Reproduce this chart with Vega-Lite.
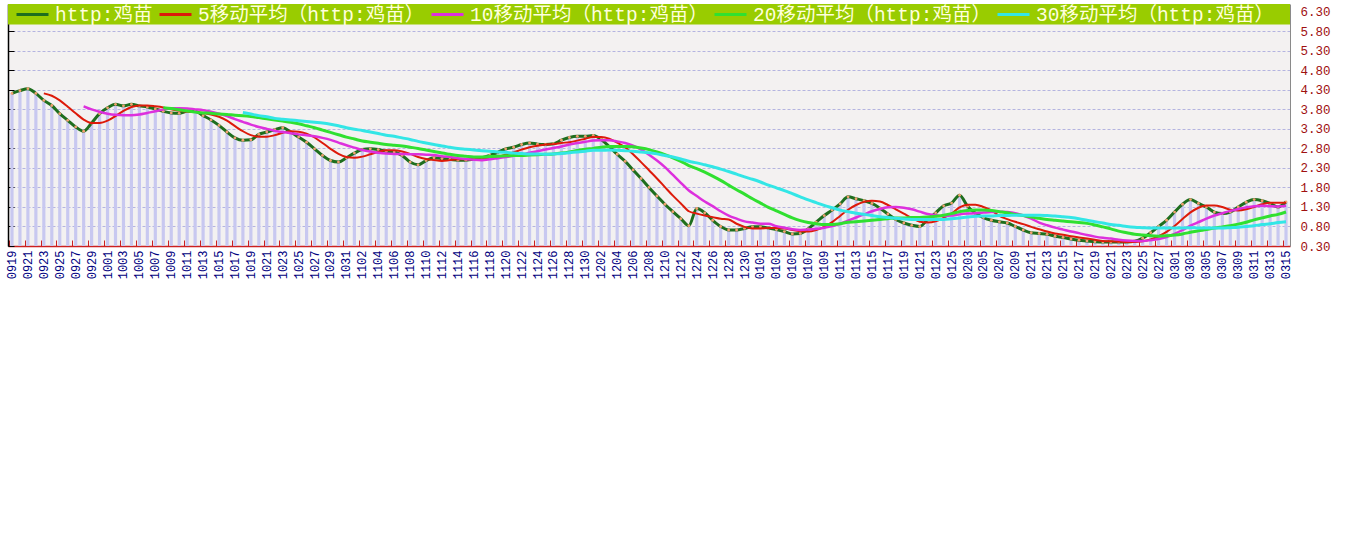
{
"$schema": "https://vega.github.io/schema/vega-lite/v6.json",
"width": 1282,
"height": 242,
"autosize": {"type": "none"},
"padding": {"left": 8, "top": 4, "right": 55, "bottom": 295},
"background": "white",
"config": {"view": {"fill": "#f3f1f1", "stroke": null}, "axis": {"labelFlush": false, "labelOverlap": false}},
"data": {"values": [
{"d":"0919","v":4.21},{"d":"0920","v":4.28},{"d":"0921","v":4.33},{"d":"0922","v":4.21},
{"d":"0923","v":4.03,"a":4.21},{"d":"0924","v":3.90,"a":4.15},{"d":"0925","v":3.69,"a":4.03},{"d":"0926","v":3.52,"a":3.87},{"d":"0927","v":3.35,"a":3.70},
{"d":"0928","v":3.24,"a":3.54,"b":3.88},{"d":"0929","v":3.45,"a":3.45,"b":3.80},{"d":"0930","v":3.69,"a":3.45,"b":3.74},{"d":"1001","v":3.84,"a":3.51,"b":3.69},{"d":"1002","v":3.93,"a":3.63,"b":3.66},{"d":"1003","v":3.89,"a":3.76,"b":3.65},{"d":"1004","v":3.93,"a":3.86,"b":3.65},{"d":"1005","v":3.89,"a":3.90,"b":3.67},{"d":"1006","v":3.86,"a":3.90,"b":3.71},{"d":"1007","v":3.81,"a":3.88,"b":3.75},
{"d":"1008","v":3.75,"a":3.85,"b":3.80,"c":3.84},{"d":"1009","v":3.71,"a":3.80,"b":3.83,"c":3.82},{"d":"1010","v":3.70,"a":3.77,"b":3.83,"c":3.79},{"d":"1011","v":3.75,"a":3.74,"b":3.82,"c":3.76},{"d":"1012","v":3.75,"a":3.73,"b":3.80,"c":3.73},{"d":"1013","v":3.64,"a":3.71,"b":3.78,"c":3.71},{"d":"1014","v":3.53,"a":3.67,"b":3.74,"c":3.70},{"d":"1015","v":3.39,"a":3.61,"b":3.69,"c":3.68},{"d":"1016","v":3.22,"a":3.51,"b":3.63,"c":3.67},{"d":"1017","v":3.07,"a":3.37,"b":3.55,"c":3.65},
{"d":"1018","v":3.01,"a":3.24,"b":3.48,"c":3.64,"e":3.72},{"d":"1019","v":3.02,"a":3.14,"b":3.41,"c":3.62,"e":3.68},{"d":"1020","v":3.16,"a":3.10,"b":3.35,"c":3.59,"e":3.64},{"d":"1021","v":3.22,"a":3.10,"b":3.30,"c":3.56,"e":3.61},{"d":"1022","v":3.28,"a":3.14,"b":3.25,"c":3.53,"e":3.57},{"d":"1023","v":3.33,"a":3.20,"b":3.22,"c":3.50,"e":3.55},{"d":"1024","v":3.22,"a":3.24,"b":3.19,"c":3.47,"e":3.53},{"d":"1025","v":3.09,"a":3.23,"b":3.16,"c":3.43,"e":3.51},{"d":"1026","v":2.96,"a":3.18,"b":3.14,"c":3.38,"e":3.49},{"d":"1027","v":2.79,"a":3.08,"b":3.11,"c":3.33,"e":3.47},
{"d":"1028","v":2.62,"a":2.94,"b":3.07,"c":3.27,"e":3.45},{"d":"1029","v":2.49,"a":2.79,"b":3.02,"c":3.21,"e":3.42},{"d":"1030","v":2.45,"a":2.66,"b":2.95,"c":3.15,"e":3.38},{"d":"1031","v":2.56,"a":2.58,"b":2.88,"c":3.09,"e":3.33},{"d":"1101","v":2.68,"a":2.56,"b":2.82,"c":3.04,"e":3.29},{"d":"1102","v":2.77,"a":2.59,"b":2.76,"c":2.99,"e":3.26},{"d":"1103","v":2.79,"a":2.65,"b":2.72,"c":2.96,"e":3.22},{"d":"1104","v":2.77,"a":2.71,"b":2.69,"c":2.93,"e":3.18},{"d":"1105","v":2.73,"a":2.75,"b":2.67,"c":2.90,"e":3.14},{"d":"1106","v":2.71,"a":2.75,"b":2.66,"c":2.88,"e":3.11},
{"d":"1107","v":2.62,"a":2.72,"b":2.66,"c":2.86,"e":3.07},{"d":"1108","v":2.45,"a":2.66,"b":2.65,"c":2.83,"e":3.03},{"d":"1109","v":2.38,"a":2.58,"b":2.65,"c":2.80,"e":2.98},{"d":"1110","v":2.49,"a":2.53,"b":2.64,"c":2.76,"e":2.94},{"d":"1111","v":2.56,"a":2.50,"b":2.63,"c":2.72,"e":2.90},{"d":"1112","v":2.54,"a":2.48,"b":2.60,"c":2.68,"e":2.86},{"d":"1113","v":2.52,"a":2.50,"b":2.58,"c":2.65,"e":2.83},{"d":"1114","v":2.50,"a":2.52,"b":2.55,"c":2.62,"e":2.80},{"d":"1115","v":2.50,"a":2.52,"b":2.53,"c":2.60,"e":2.78},{"d":"1116","v":2.52,"a":2.52,"b":2.51,"c":2.58,"e":2.76},
{"d":"1117","v":2.56,"a":2.52,"b":2.50,"c":2.58,"e":2.74},{"d":"1118","v":2.62,"a":2.54,"b":2.52,"c":2.59,"e":2.73},{"d":"1119","v":2.70,"a":2.58,"b":2.55,"c":2.60,"e":2.71},{"d":"1120","v":2.79,"a":2.64,"b":2.58,"c":2.61,"e":2.70},{"d":"1121","v":2.83,"a":2.70,"b":2.61,"c":2.62,"e":2.68},{"d":"1122","v":2.90,"a":2.77,"b":2.64,"c":2.62,"e":2.67},{"d":"1123","v":2.94,"a":2.83,"b":2.69,"c":2.63,"e":2.66},{"d":"1124","v":2.91,"a":2.87,"b":2.73,"c":2.64,"e":2.66},{"d":"1125","v":2.90,"a":2.90,"b":2.77,"c":2.65,"e":2.65},{"d":"1126","v":2.92,"a":2.91,"b":2.81,"c":2.66,"e":2.66},
{"d":"1127","v":3.01,"a":2.94,"b":2.85,"c":2.68,"e":2.67},{"d":"1128","v":3.08,"a":2.96,"b":2.90,"c":2.71,"e":2.69},{"d":"1129","v":3.11,"a":3.00,"b":2.94,"c":2.75,"e":2.71},{"d":"1130","v":3.11,"a":3.05,"b":2.97,"c":2.78,"e":2.73},{"d":"1201","v":3.13,"a":3.09,"b":3.00,"c":2.80,"e":2.75},{"d":"1202","v":3.03,"a":3.09,"b":3.01,"c":2.83,"e":2.75},{"d":"1203","v":2.85,"a":3.05,"b":3.01,"c":2.85,"e":2.76},{"d":"1204","v":2.65,"a":2.95,"b":2.98,"c":2.85,"e":2.75},{"d":"1205","v":2.47,"a":2.83,"b":2.94,"c":2.85,"e":2.74},{"d":"1206","v":2.25,"a":2.65,"b":2.87,"c":2.84,"e":2.73},
{"d":"1207","v":2.03,"a":2.45,"b":2.77,"c":2.81,"e":2.71},{"d":"1208","v":1.80,"a":2.24,"b":2.64,"c":2.77,"e":2.69},{"d":"1209","v":1.58,"a":2.03,"b":2.49,"c":2.71,"e":2.66},{"d":"1210","v":1.37,"a":1.81,"b":2.32,"c":2.64,"e":2.62},{"d":"1211","v":1.18,"a":1.59,"b":2.12,"c":2.56,"e":2.58},{"d":"1212","v":1.00,"a":1.39,"b":1.92,"c":2.47,"e":2.53},{"d":"1213","v":0.82,"a":1.19,"b":1.72,"c":2.36,"e":2.47},{"d":"1224","v":1.26,"a":1.13,"b":1.58,"c":2.28,"e":2.43},{"d":"1225","v":1.15,"a":1.08,"b":1.44,"c":2.19,"e":2.38},{"d":"1226","v":0.96,"a":1.04,"b":1.32,"c":2.09,"e":2.33},
{"d":"1227","v":0.80,"a":1.00,"b":1.19,"c":1.98,"e":2.27},{"d":"1228","v":0.71,"a":0.98,"b":1.08,"c":1.86,"e":2.21},{"d":"1229","v":0.71,"a":0.87,"b":1.00,"c":1.74,"e":2.14},{"d":"1230","v":0.75,"a":0.79,"b":0.93,"c":1.63,"e":2.07},{"d":"1231","v":0.79,"a":0.75,"b":0.90,"c":1.51,"e":2.01},{"d":"0101","v":0.79,"a":0.75,"b":0.87,"c":1.40,"e":1.94},{"d":"0102","v":0.76,"a":0.76,"b":0.87,"c":1.29,"e":1.86},{"d":"0103","v":0.72,"a":0.76,"b":0.81,"c":1.20,"e":1.79},{"d":"0104","v":0.67,"a":0.75,"b":0.77,"c":1.11,"e":1.72},{"d":"0105","v":0.61,"a":0.71,"b":0.73,"c":1.02,"e":1.64},
{"d":"0106","v":0.62,"a":0.68,"b":0.71,"c":0.95,"e":1.56},{"d":"0107","v":0.74,"a":0.67,"b":0.72,"c":0.90,"e":1.48},{"d":"0108","v":0.91,"a":0.71,"b":0.74,"c":0.87,"e":1.41},{"d":"0109","v":1.08,"a":0.79,"b":0.77,"c":0.85,"e":1.34},{"d":"0110","v":1.22,"a":0.91,"b":0.81,"c":0.85,"e":1.28},{"d":"0111","v":1.38,"a":1.07,"b":0.87,"c":0.87,"e":1.22},{"d":"0112","v":1.56,"a":1.23,"b":0.95,"c":0.91,"e":1.18},{"d":"0113","v":1.51,"a":1.35,"b":1.03,"c":0.92,"e":1.14},{"d":"0114","v":1.46,"a":1.43,"b":1.11,"c":0.94,"e":1.11},{"d":"0115","v":1.39,"a":1.46,"b":1.19,"c":0.96,"e":1.08},
{"d":"0116","v":1.27,"a":1.44,"b":1.25,"c":0.98,"e":1.05},{"d":"0117","v":1.12,"a":1.35,"b":1.29,"c":1.00,"e":1.03},{"d":"0118","v":0.98,"a":1.24,"b":1.30,"c":1.02,"e":1.01},{"d":"0119","v":0.89,"a":1.13,"b":1.28,"c":1.02,"e":0.99},{"d":"0120","v":0.83,"a":1.02,"b":1.24,"c":1.03,"e":0.98},{"d":"0121","v":0.80,"a":0.92,"b":1.18,"c":1.03,"e":0.98},{"d":"0122","v":0.98,"a":0.90,"b":1.12,"c":1.04,"e":0.98},{"d":"0123","v":1.15,"a":0.93,"b":1.09,"c":1.06,"e":0.98},{"d":"0124","v":1.33,"a":1.02,"b":1.07,"c":1.09,"e":0.98},{"d":"0125","v":1.40,"a":1.13,"b":1.08,"c":1.13,"e":1.00},
{"d":"0126","v":1.60,"a":1.29,"b":1.11,"c":1.18,"e":1.02},{"d":"0203","v":1.32,"a":1.36,"b":1.13,"c":1.21,"e":1.04},{"d":"0204","v":1.14,"a":1.36,"b":1.14,"c":1.22,"e":1.06},{"d":"0205","v":1.03,"a":1.30,"b":1.16,"c":1.22,"e":1.07},{"d":"0206","v":0.96,"a":1.21,"b":1.17,"c":1.21,"e":1.07},{"d":"0207","v":0.92,"a":1.07,"b":1.18,"c":1.18,"e":1.08},{"d":"0208","v":0.89,"a":0.99,"b":1.17,"c":1.15,"e":1.08},{"d":"0209","v":0.80,"a":0.92,"b":1.14,"c":1.11,"e":1.09},{"d":"0210","v":0.71,"a":0.86,"b":1.08,"c":1.08,"e":1.09},{"d":"0211","v":0.64,"a":0.79,"b":1.00,"c":1.04,"e":1.09},
{"d":"0212","v":0.62,"a":0.73,"b":0.90,"c":1.01,"e":1.09},{"d":"0213","v":0.60,"a":0.67,"b":0.83,"c":0.98,"e":1.08},{"d":"0214","v":0.55,"a":0.62,"b":0.77,"c":0.96,"e":1.07},{"d":"0215","v":0.52,"a":0.59,"b":0.72,"c":0.94,"e":1.05},{"d":"0216","v":0.48,"a":0.55,"b":0.67,"c":0.92,"e":1.03},{"d":"0217","v":0.45,"a":0.52,"b":0.63,"c":0.90,"e":1.00},{"d":"0218","v":0.43,"a":0.49,"b":0.58,"c":0.88,"e":0.96},{"d":"0219","v":0.41,"a":0.46,"b":0.54,"c":0.84,"e":0.92},{"d":"0220","v":0.40,"a":0.43,"b":0.51,"c":0.79,"e":0.89},{"d":"0221","v":0.40,"a":0.42,"b":0.49,"c":0.74,"e":0.85},
{"d":"0222","v":0.40,"a":0.41,"b":0.46,"c":0.68,"e":0.83},{"d":"0223","v":0.40,"a":0.40,"b":0.44,"c":0.64,"e":0.80},{"d":"0224","v":0.42,"a":0.40,"b":0.43,"c":0.60,"e":0.78},{"d":"0225","v":0.50,"a":0.42,"b":0.43,"c":0.58,"e":0.77},{"d":"0226","v":0.64,"a":0.47,"b":0.45,"c":0.56,"e":0.76},{"d":"0227","v":0.80,"a":0.55,"b":0.48,"c":0.55,"e":0.76},{"d":"0228","v":0.96,"a":0.66,"b":0.53,"c":0.56,"e":0.76},{"d":"0301","v":1.17,"a":0.81,"b":0.61,"c":0.58,"e":0.76},{"d":"0302","v":1.37,"a":0.99,"b":0.71,"c":0.61,"e":0.76},{"d":"0303","v":1.49,"a":1.16,"b":0.82,"c":0.65,"e":0.77},
{"d":"0304","v":1.39,"a":1.28,"b":0.91,"c":0.69,"e":0.76},{"d":"0305","v":1.30,"a":1.34,"b":1.00,"c":0.72,"e":0.76},{"d":"0306","v":1.17,"a":1.34,"b":1.08,"c":0.76,"e":0.76},{"d":"0307","v":1.13,"a":1.30,"b":1.14,"c":0.79,"e":0.76},{"d":"0308","v":1.17,"a":1.23,"b":1.20,"c":0.82,"e":0.77},{"d":"0309","v":1.30,"a":1.21,"b":1.25,"c":0.86,"e":0.78},{"d":"0310","v":1.42,"a":1.24,"b":1.29,"c":0.91,"e":0.80},{"d":"0311","v":1.49,"a":1.30,"b":1.32,"c":0.97,"e":0.82},{"d":"0312","v":1.46,"a":1.37,"b":1.33,"c":1.02,"e":0.85},{"d":"0313","v":1.39,"a":1.41,"b":1.32,"c":1.07,"e":0.87},
{"d":"0314","v":1.30,"a":1.41,"b":1.31,"c":1.11,"e":0.90},{"d":"0315","v":1.43,"a":1.41,"b":1.33,"c":1.17,"e":0.92}
]},
"resolve": {"axis": {"y": "independent"}},
"layer": [
{
"mark": {"type": "bar", "color": "#c8c8f0", "width": {"band": 0.4}},
"encoding": {
"x": {"field": "d", "type": "ordinal", "sort": null, "scale": {"type": "band", "paddingInner": 0, "paddingOuter": 0},
"axis": {"title": null, "values": ["0919","0921","0923","0925","0927","0929","1001","1003","1005","1007","1009","1011","1013","1015","1017","1019","1021","1023","1025","1027","1029","1031","1102","1104","1106","1108","1110","1112","1114","1116","1118","1120","1122","1124","1126","1128","1130","1202","1204","1206","1208","1210","1212","1224","1226","1228","1230","0101","0103","0105","0107","0109","0111","0113","0115","0117","0119","0121","0123","0125","0203","0205","0207","0209","0211","0213","0215","0217","0219","0221","0223","0225","0227","0301","0303","0305","0307","0309","0311","0313","0315"],
"labelAngle": -90, "labelColor": "#000080", "labelFont": "Liberation Mono", "labelFontSize": 12, "labelPadding": 10,
"tickColor": "#cc2020", "tickSize": -6, "tickWidth": 1, "domainColor": "#cc2020", "domainWidth": 1.5, "bandPosition": 0.15, "grid": false}},
"y": {"field": "v", "type": "quantitative", "scale": {"domain": [0.3, 6.5], "nice": false, "zero": false},
"axis": {"orient": "right", "title": null, "values": [0.3,0.8,1.3,1.8,2.3,2.8,3.3,3.8,4.3,4.8,5.3,5.8,6.3], "format": ".2f",
"labelColor": "#a01010", "labelFont": "Liberation Mono", "labelFontSize": 12.5, "labelPadding": 10, "ticks": false,
"domainColor": "#8a8a8a", "domainWidth": 1, "grid": true, "gridColor": "#b4b4e0", "gridDash": [3, 2], "gridWidth": 1}},
"y2": {"datum": 0.3}
}
},
{
"data": {"values": [{}]},
"mark": {"type": "rect", "color": "#99cc00"},
"encoding": {
"y": {"datum": 5.975, "type": "quantitative", "scale": {"domain": [0.3, 6.5], "nice": false, "zero": false}, "axis": null},
"y2": {"datum": 6.5}
}
},
{
"mark": {"type": "line", "strokeWidth": 3, "interpolate": "monotone"},
"encoding": {
"x": {"field": "d", "type": "ordinal", "sort": null},
"y": {"field": "v", "type": "quantitative", "scale": {"domain": [0.3, 6.5], "nice": false, "zero": false},
"axis": {"orient": "left", "title": null, "labels": false, "values": [0.3,0.8,1.3,1.8,2.3,2.8,3.3,3.8,4.3,4.8,5.3,5.8,6.3], "tickSize": -6, "tickColor": "black", "domainColor": "black", "domainWidth": 1.5, "grid": false}},
"color": {"datum": "v", "type": "nominal",
"scale": {"domain": ["v","a","b","c","e"], "range": ["#1e6e1e","#dd1a0a","#dd30dd","#30e030","#33e6e6"]},
"legend": {"orient": "none", "legendX": 7, "legendY": -7, "direction": "horizontal", "title": null, "symbolType": "stroke", "symbolSize": 1024, "symbolStrokeWidth": 3,
"labelFont": "Liberation Mono, Noto Sans CJK SC", "labelFontSize": 19.5, "labelColor": "#ffffdd", "labelLimit": 0, "labelOffset": 5, "columnPadding": 0, "padding": 0,
"labelExpr": "datum.label == 'v' ? 'http:鸡苗' : datum.label == 'a' ? '5移动平均（http:鸡苗）' : datum.label == 'b' ? '10移动平均（http:鸡苗）' : datum.label == 'c' ? '20移动平均（http:鸡苗）' : '30移动平均（http:鸡苗）'"}}
}
},
{
"mark": {"type": "point", "filled": true, "size": 8, "color": "#f2a070", "opacity": 1},
"encoding": {
"x": {"field": "d", "type": "ordinal", "sort": null},
"y": {"field": "v", "type": "quantitative", "scale": {"domain": [0.3, 6.5], "nice": false, "zero": false}, "axis": null}
}
},
{
"mark": {"type": "line", "strokeWidth": 2, "interpolate": "monotone"},
"encoding": {
"x": {"field": "d", "type": "ordinal", "sort": null},
"y": {"field": "a", "type": "quantitative", "scale": {"domain": [0.3, 6.5], "nice": false, "zero": false}, "axis": null},
"color": {"datum": "a", "type": "nominal"}
}
},
{
"mark": {"type": "line", "strokeWidth": 2.5, "interpolate": "monotone"},
"encoding": {
"x": {"field": "d", "type": "ordinal", "sort": null},
"y": {"field": "b", "type": "quantitative", "scale": {"domain": [0.3, 6.5], "nice": false, "zero": false}, "axis": null},
"color": {"datum": "b", "type": "nominal"}
}
},
{
"mark": {"type": "line", "strokeWidth": 3, "interpolate": "monotone"},
"encoding": {
"x": {"field": "d", "type": "ordinal", "sort": null},
"y": {"field": "c", "type": "quantitative", "scale": {"domain": [0.3, 6.5], "nice": false, "zero": false}, "axis": null},
"color": {"datum": "c", "type": "nominal"}
}
},
{
"mark": {"type": "line", "strokeWidth": 3, "interpolate": "monotone"},
"encoding": {
"x": {"field": "d", "type": "ordinal", "sort": null},
"y": {"field": "e", "type": "quantitative", "scale": {"domain": [0.3, 6.5], "nice": false, "zero": false}, "axis": null},
"color": {"datum": "e", "type": "nominal"}
}
}
]
}
